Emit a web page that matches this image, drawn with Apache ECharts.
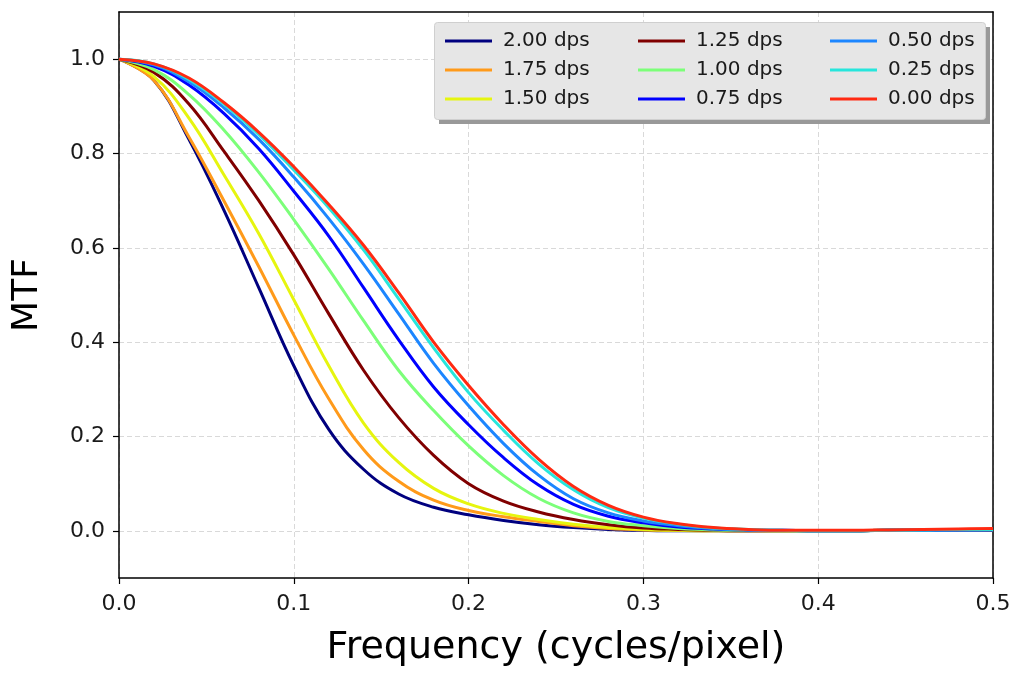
<!DOCTYPE html>
<html>
<head>
<meta charset="utf-8">
<script src="https://cdn.jsdelivr.net/npm/echarts@6/dist/echarts.min.js"></script>
<style>
  html, body { margin: 0; padding: 0; background: #fff; }
  #main { width: 1016px; height: 675px; }
</style>
</head>
<body>
<div id="main"></div>
<script>
// frequency samples (cycles/pixel)
const freq = [0, 0.02, 0.04, 0.06, 0.08, 0.10, 0.12, 0.14, 0.16, 0.18, 0.20, 0.22, 0.24,
              0.26, 0.28, 0.30, 0.32, 0.34, 0.36, 0.38, 0.40, 0.42, 0.44, 0.46, 0.48, 0.50];

// MTF at each frequency, one array per curve
const mtf200 = [1, 0.955, 0.83, 0.68, 0.515, 0.35, 0.215, 0.13, 0.078, 0.05, 0.034, 0.022, 0.013, 0.007, 0.003, 0.001, 0, 0, 0, 0, 0, 0, 0.001, 0.001, 0.002, 0.002];
const mtf175 = [1, 0.955, 0.835, 0.70, 0.56, 0.415, 0.28, 0.172, 0.105, 0.065, 0.043, 0.03, 0.02, 0.011, 0.005, 0.002, 0.001, 0, 0, 0, 0, 0, 0.001, 0.001, 0.002, 0.002];
const mtf150 = [1, 0.963, 0.875, 0.755, 0.63, 0.49, 0.35, 0.228, 0.145, 0.09, 0.057, 0.037, 0.024, 0.014, 0.007, 0.003, 0.001, 0, 0, 0, 0, 0, 0.001, 0.001, 0.002, 0.002];
const mtf125 = [1, 0.972, 0.905, 0.805, 0.70, 0.585, 0.46, 0.34, 0.24, 0.16, 0.10, 0.063, 0.04, 0.024, 0.013, 0.006, 0.003, 0.001, 0, 0, 0, 0, 0.001, 0.001, 0.002, 0.002];
const mtf100 = [1, 0.978, 0.925, 0.85, 0.76, 0.66, 0.555, 0.445, 0.34, 0.255, 0.18, 0.117, 0.069, 0.038, 0.02, 0.011, 0.005, 0.002, 0.001, 0, 0, 0, 0.001, 0.001, 0.002, 0.002];
const mtf075 = [1, 0.985, 0.945, 0.885, 0.81, 0.72, 0.625, 0.515, 0.405, 0.305, 0.225, 0.155, 0.097, 0.056, 0.031, 0.017, 0.008, 0.004, 0.002, 0.001, 0, 0, 0.001, 0.001, 0.002, 0.002];
const mtf050 = [1, 0.988, 0.952, 0.897, 0.83, 0.75, 0.662, 0.565, 0.46, 0.355, 0.265, 0.185, 0.118, 0.068, 0.038, 0.021, 0.011, 0.005, 0.002, 0.001, 0, 0, 0.001, 0.002, 0.002, 0.003];
const mtf025 = [1, 0.99, 0.957, 0.905, 0.84, 0.765, 0.685, 0.595, 0.492, 0.388, 0.293, 0.213, 0.142, 0.087, 0.049, 0.027, 0.014, 0.006, 0.003, 0.001, 0, 0, 0.001, 0.002, 0.003, 0.003];
const mtf000 = [1, 0.99, 0.96, 0.908, 0.845, 0.772, 0.692, 0.605, 0.505, 0.40, 0.308, 0.225, 0.152, 0.094, 0.054, 0.029, 0.015, 0.007, 0.003, 0.001, 0.001, 0.001, 0.002, 0.003, 0.004, 0.005];

const names = ['2.00 dps', '1.75 dps', '1.50 dps', '1.25 dps', '1.00 dps', '0.75 dps', '0.50 dps', '0.25 dps', '0.00 dps'];
const curves = [mtf200, mtf175, mtf150, mtf125, mtf100, mtf075, mtf050, mtf025, mtf000];
const colors = ['#00007f', '#ff9a1a', '#e6f50f', '#800000', '#7cff79', '#0000ff', '#1c86ff', '#27e6dc', '#ff2a12'];
const yTicks = [0, 0.2, 0.4, 0.6, 0.8, 1.0];

const font = 'DejaVu Sans';
const myChart = echarts.init(document.getElementById('main'));

const legendCol = (items, left) => ({
  data: items,
  orient: 'vertical',
  left: left,
  top: 26,
  z: 20,
  itemWidth: 47,
  itemHeight: 3,
  itemGap: 9,
  icon: 'rect',
  textStyle: { fontFamily: font, fontSize: 20, color: '#1a1a1a', lineHeight: 20, padding: [0, 0, 0, 6] }
});

const frameLine = { show: true, onZero: false, lineStyle: { color: '#000', width: 1.5 } };

const option = {
  animation: false,
  color: colors,
  grid: { left: 119, right: 23, top: 12, bottom: 97 },
  graphic: [
    { type: 'rect', left: 439, top: 27, shape: { width: 551, height: 97 }, style: { fill: '#999' }, z: 10 },
    { type: 'rect', left: 434, top: 22, shape: { width: 551, height: 97, r: 3 }, style: { fill: '#e6e6e6', stroke: '#cfcfcf', lineWidth: 1 }, z: 11 }
  ],
  legend: [
    legendCol(names.slice(0, 3), 440),
    legendCol(names.slice(3, 6), 633),
    legendCol(names.slice(6, 9), 825)
  ],
  xAxis: [{
    type: 'value', min: 0, max: 0.5, interval: 0.1,
    name: 'Frequency (cycles/pixel)', nameLocation: 'middle', nameGap: 51,
    nameTextStyle: { fontFamily: font, fontSize: 38, color: '#000' },
    axisLine: frameLine,
    axisTick: { show: true, inside: false, length: 6, lineStyle: { color: '#000', width: 1.2 } },
    axisLabel: { fontFamily: font, fontSize: 22, color: '#1a1a1a', margin: 15, formatter: v => v.toFixed(1) },
    splitLine: { show: true, lineStyle: { color: '#d9d9d9', type: [5, 3], width: 1 } }
  }, {
    type: 'value', position: 'top', min: 0, max: 0.5,
    axisLine: frameLine, axisTick: { show: false }, axisLabel: { show: false }, splitLine: { show: false }
  }],
  yAxis: [{
    type: 'value', min: -0.1, max: 1.1,
    name: 'MTF', nameLocation: 'middle', nameGap: 73, nameRotate: 90,
    nameTextStyle: { fontFamily: font, fontSize: 36, color: '#000' },
    axisLine: frameLine,
    axisTick: { show: true, inside: false, length: 6, customValues: yTicks, lineStyle: { color: '#000', width: 1.2 } },
    axisLabel: { fontFamily: font, fontSize: 22, color: '#1a1a1a', margin: 14, customValues: yTicks, formatter: v => v.toFixed(1) },
    splitLine: { show: true, lineStyle: { color: '#d9d9d9', type: [5, 3], width: 1 } }
  }, {
    type: 'value', position: 'right', min: -0.1, max: 1.1,
    axisLine: frameLine, axisTick: { show: false }, axisLabel: { show: false }, splitLine: { show: false }
  }],
  series: curves.map((vals, i) => ({
    name: names[i],
    type: 'line',
    data: freq.map((f, k) => [f, vals[k]]),
    smooth: 0.4,
    showSymbol: false,
    clip: true,
    lineStyle: { width: 3, color: colors[i] },
    itemStyle: { color: colors[i] }
  }))
};

myChart.setOption(option);
</script>
</body>
</html>
